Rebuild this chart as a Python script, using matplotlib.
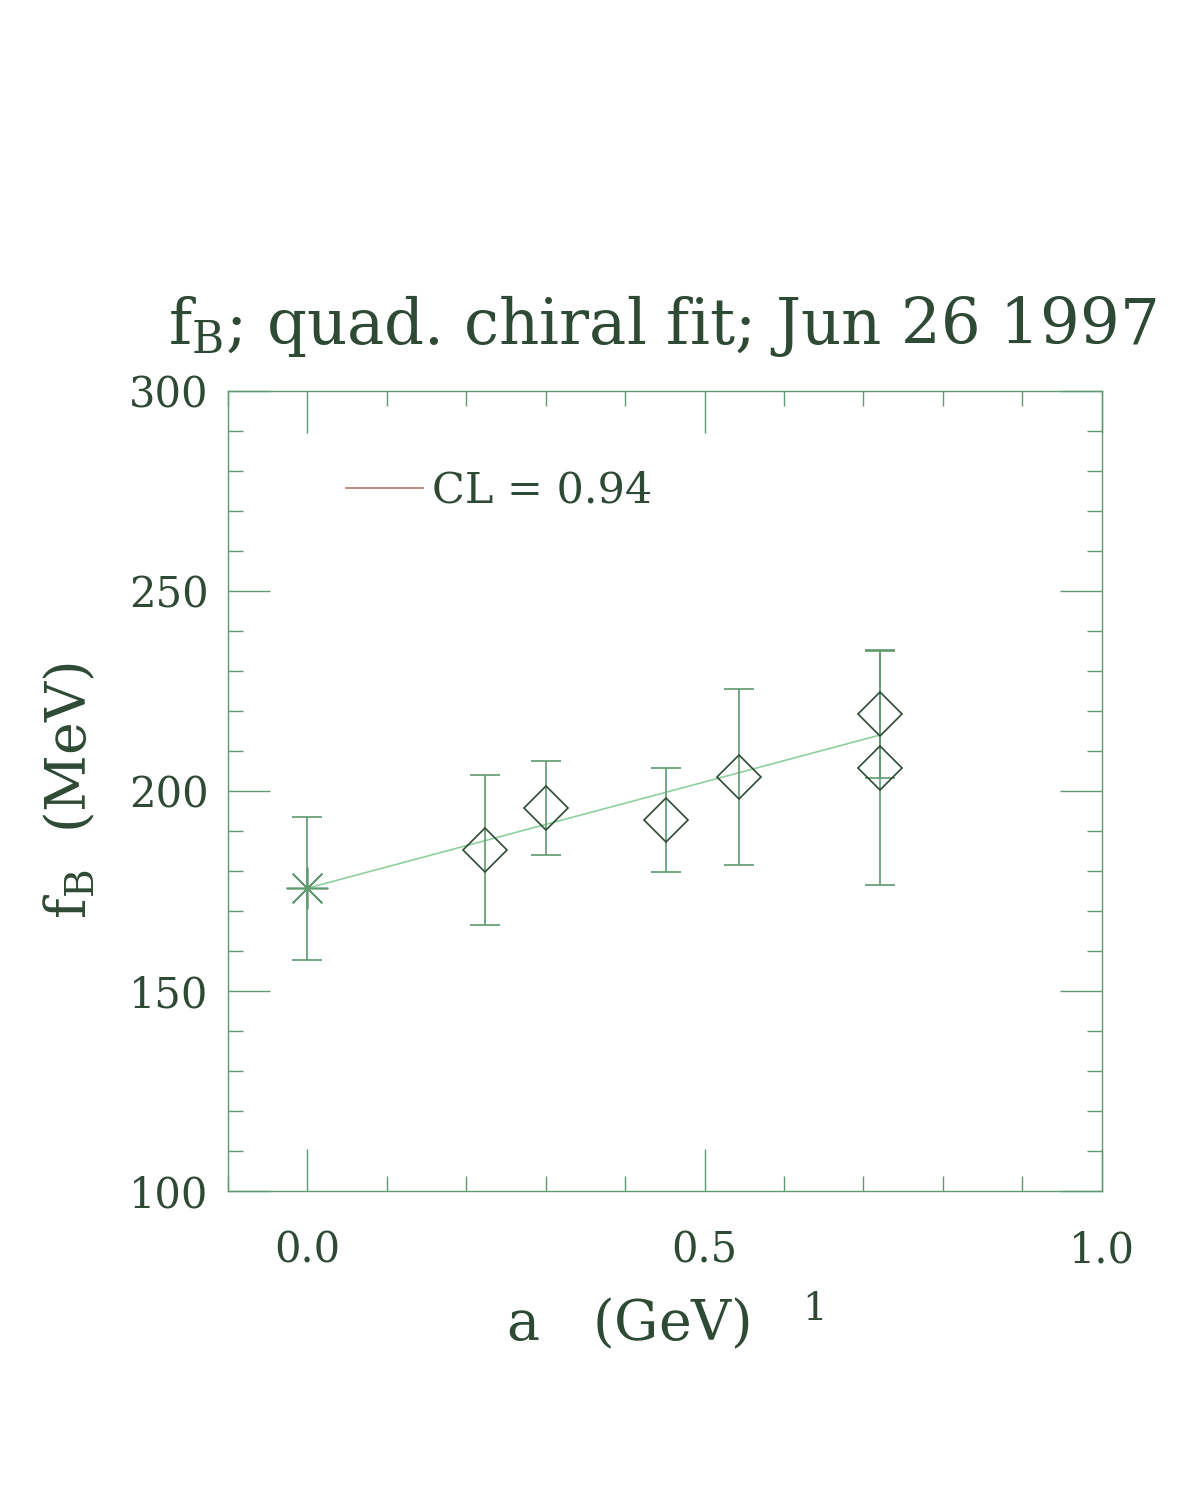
import numpy as np
import matplotlib
matplotlib.use('Agg')
import matplotlib.pyplot as plt
from matplotlib.lines import Line2D
from matplotlib.ticker import MultipleLocator

# data
a_extrap = [0.0]
fB_extrap = [175.7]
err_extrap = [17.9]

a_pts = [0.223, 0.300, 0.451, 0.544, 0.721, 0.721]
fB_pts = [185.3, 195.7, 192.8, 203.6, 219.3, 205.8]
err_pts = [18.7, 11.8, 13.0, 22.0, 16.0, 29.3]

fit_a = [0.0, 0.721]
fit_fB = [175.7, 214.0]

txt_col = '#2e4a35'
line_col = '#5f9a70'
fit_col = '#8fcf9f'
leg_col = '#a87a68'

plt.rcParams['font.family'] = ['DejaVu Serif']
plt.rcParams['mathtext.fontset'] = 'dejavuserif'

fig = plt.figure(figsize=(12, 14.85), dpi=100)
ax = fig.add_axes([0.19, 0.198, 0.728, 0.5387])

ax.plot(fit_a, fit_fB, color=fit_col, lw=1.2, zorder=2)

ax.errorbar(a_pts, fB_pts, yerr=err_pts, fmt='none', ecolor=line_col,
            elinewidth=1.2, capsize=11, capthick=1.2, zorder=3)
ax.plot(a_pts, fB_pts, ls='none', marker='D', ms=22, mfc='none',
        mec=txt_col, mew=1.2, zorder=4)

ax.errorbar(a_extrap, fB_extrap, yerr=err_extrap, fmt='none', ecolor=line_col,
            elinewidth=1.2, capsize=11, capthick=1.2, zorder=3)
ax.plot(a_extrap, fB_extrap, ls='none', marker=(8, 2, 0), ms=30,
        mec=line_col, mew=1.2, zorder=4)

ax.set_xlim(-0.1, 1.0)
ax.set_ylim(100, 300)
ax.xaxis.set_major_locator(MultipleLocator(0.5))
ax.xaxis.set_minor_locator(MultipleLocator(0.1))
ax.yaxis.set_major_locator(MultipleLocator(50))
ax.yaxis.set_minor_locator(MultipleLocator(10))
ax.xaxis.set_major_formatter(plt.FuncFormatter(lambda v, p: f'{v:.1f}'))

ax.tick_params(which='both', direction='in', top=True, right=True,
               color=line_col, width=1.0, labelcolor=txt_col, labelsize=30)
ax.tick_params(which='major', length=30, pad=14)
ax.tick_params(axis='x', which='major', pad=28)
ax.tick_params(which='minor', length=11)
for sp in ax.spines.values():
    sp.set_color(line_col)
    sp.set_linewidth(1.0)

ax.set_xlabel(r'a   (GeV)$^{\ \ \ \ 1}$', fontsize=40, color=txt_col, labelpad=14)
ax.set_ylabel(r'f$_{\mathrm{B}}$  (MeV)', fontsize=40, color=txt_col, labelpad=22)
ax.set_title(r'f$_{\mathrm{B}}$; quad. chiral fit; Jun 26 1997', fontsize=45,
             color=txt_col, pad=34, x=0.497)

handle = Line2D([], [], color=leg_col, lw=1.2)
ax.legend([handle], ['CL = 0.94'], loc='center left', bbox_to_anchor=(0.135, 0.875),
          frameon=False, fontsize=31, handlelength=1.8, handletextpad=0.2,
          borderpad=0, borderaxespad=0, labelcolor=txt_col)

fig.savefig('out.png', dpi=100)
